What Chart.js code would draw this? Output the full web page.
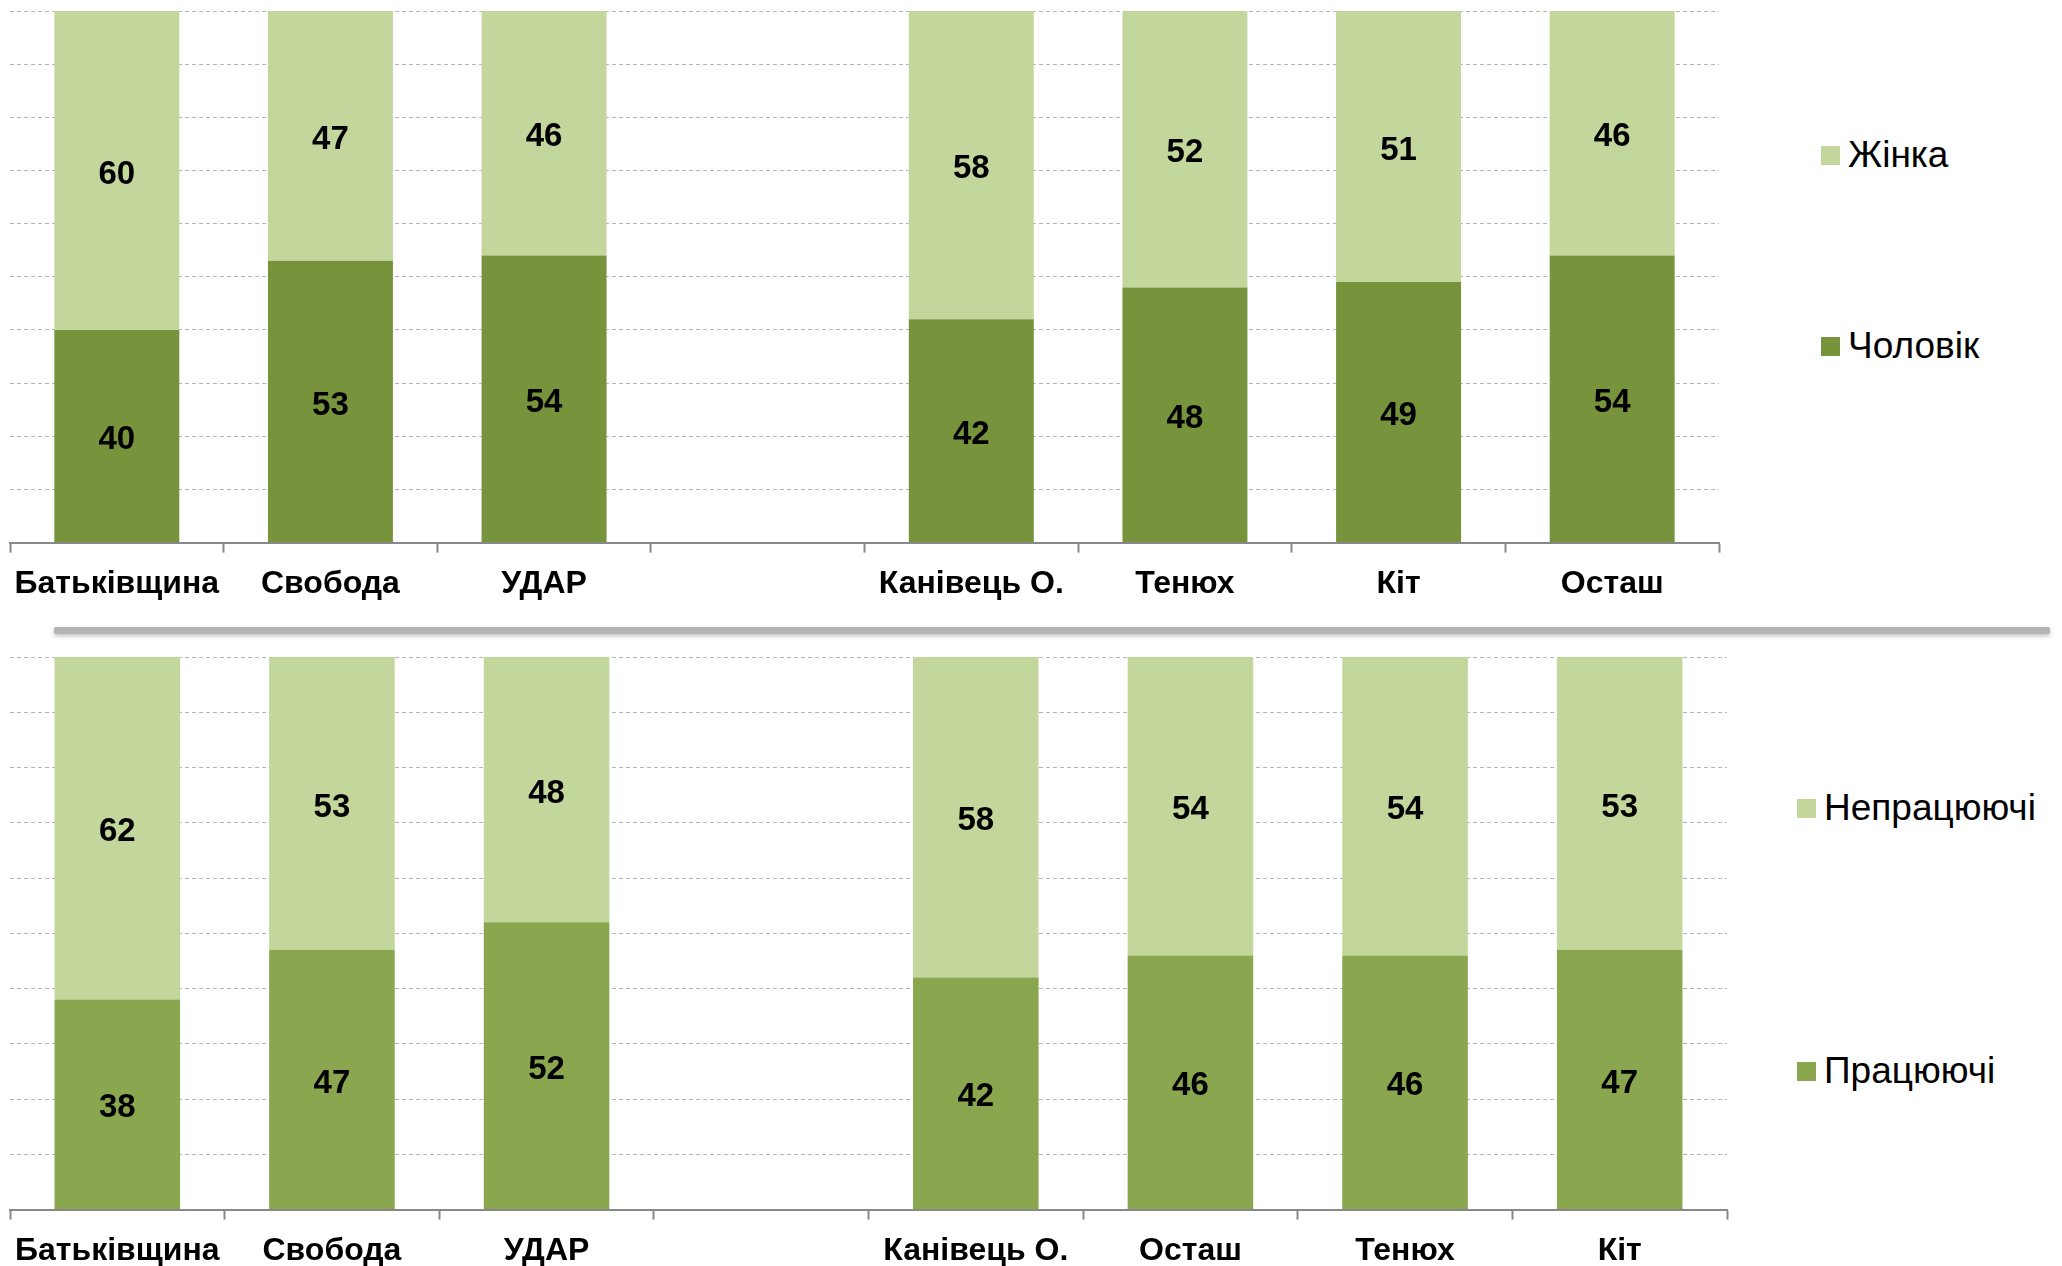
<!DOCTYPE html>
<html>
<head>
<meta charset="utf-8">
<script src="https://cdn.jsdelivr.net/npm/chart.js@4.4.0/dist/chart.umd.min.js"></script>
<style>
  html, body { margin: 0; padding: 0; background: #fff; overflow: hidden; }
  body { width: 2062px; height: 1266px; position: relative; font-family: "Liberation Sans", Arial, sans-serif; }
  canvas { position: absolute; left: 0; }
  #chartTop { top: 0; }
  #chartBottom { top: 646px; }
  .sep {
    position: absolute; left: 54px; top: 627px; width: 1996px; height: 7px;
    background: #b4b4b4; box-shadow: 0 2px 4px rgba(0,0,0,0.25); border-radius: 2px;
  }
  .legend-item { position: absolute; font-size: 37px; color: #000; line-height: 1; white-space: nowrap; }
  .legend-item span.box { display: inline-block; width: 19px; height: 19px; margin-right: 8px; vertical-align: middle; position: relative; top: -2px; }
</style>
</head>
<body>
<canvas id="chartTop" width="1730" height="615"></canvas>
<div class="sep"></div>
<canvas id="chartBottom" width="1740" height="636"></canvas>
<div id="legendTop"></div>
<div id="legendBottom"></div>

<script>
// Дані верхньої діаграми (стать)
const topLabels = ['Батьківщина', 'Свобода', 'УДАР', '', 'Канівець О.', 'Тенюх', 'Кіт', 'Осташ'];
const topMale   = [40, 53, 54, null, 42, 48, 49, 54];   // Чоловік
const topFemale = [60, 47, 46, null, 58, 52, 51, 46];   // Жінка

// Дані нижньої діаграми (зайнятість)
const bottomLabels = ['Батьківщина', 'Свобода', 'УДАР', '', 'Канівець О.', 'Осташ', 'Тенюх', 'Кіт'];
const bottomWorking    = [38, 47, 52, null, 42, 46, 46, 47];   // Працюючі
const bottomNonWorking = [62, 53, 48, null, 58, 54, 54, 53];   // Непрацюючі

const yTicks = { min: 0, max: 100, step: 10 };

const lightGreen = '#C3D69B';
const darkGreenTop = '#77933C';
const darkGreenBottom = '#8AA64F';
const FONT = '"Liberation Sans", Arial, sans-serif';

// Цифри в центрі кожного сегмента
const valueLabels = {
    id: 'valueLabels',
    afterDatasetsDraw(chart) {
        const { ctx } = chart;
        ctx.save();
        ctx.font = 'bold 33px ' + FONT;
        ctx.fillStyle = '#000';
        ctx.textAlign = 'center';
        ctx.textBaseline = 'middle';
        chart.data.datasets.forEach((ds, di) => {
            chart.getDatasetMeta(di).data.forEach((el, i) => {
                const v = ds.data[i];
                if (v === null || v === undefined) return;
                const p = el.getProps(['x', 'y', 'base'], true);
                ctx.fillText(v, p.x, (p.y + p.base) / 2 + 4);
            });
        });
        ctx.restore();
    }
};

function makeChart(id, labels, lower, upper, lowerName, upperName, darkColor, padRight) {
    return new Chart(document.getElementById(id), {
        type: 'bar',
        data: {
            labels: labels,
            datasets: [
                { label: lowerName, data: lower, backgroundColor: darkColor, borderWidth: 0 },
                { label: upperName, data: upper, backgroundColor: lightGreen, borderWidth: 0 }
            ]
        },
        options: {
            responsive: false,
            animation: false,
            layout: { padding: { left: 10, right: padRight, top: 11, bottom: 0 } },
            plugins: { legend: { display: false }, tooltip: { enabled: false } },
            datasets: { bar: { categoryPercentage: 1, barPercentage: 0.585 } },
            scales: {
                x: {
                    stacked: true,
                    grid: { display: true, drawOnChartArea: false, drawTicks: true, tickLength: 10, tickColor: '#888', tickWidth: 2, offset: true },
                    border: { display: true, color: '#888', width: 2 },
                    ticks: { color: '#000', font: { family: FONT, size: 32, weight: 'bold' }, padding: 12, maxRotation: 0, autoSkip: false }
                },
                y: {
                    stacked: true,
                    min: yTicks.min, max: yTicks.max,
                    ticks: { display: false, stepSize: yTicks.step },
                    grid: { color: '#b4b4b4', lineWidth: 1, drawTicks: false, tickLength: 0 },
                    border: { display: false, dash: [4, 3] }
                }
            }
        },
        plugins: [valueLabels]
    });
}

makeChart('chartTop', topLabels, topMale, topFemale, 'Чоловік', 'Жінка', darkGreenTop, 11);
makeChart('chartBottom', bottomLabels, bottomWorking, bottomNonWorking, 'Працюючі', 'Непрацюючі', darkGreenBottom, 13);

// Легенди праворуч
function legend(id, items, left) {
    const box = document.getElementById(id);
    items.forEach(it => {
        const d = document.createElement('div');
        d.className = 'legend-item';
        d.style.left = left + 'px';
        d.style.top = (it.y - 19) + 'px';
        d.innerHTML = '<span class="box" style="background:' + it.color + '"></span>' + it.name;
        box.appendChild(d);
    });
}
legend('legendTop', [
    { name: 'Жінка', color: lightGreen, y: 155 },
    { name: 'Чоловік', color: darkGreenTop, y: 346 }
], 1821);
legend('legendBottom', [
    { name: 'Непрацюючі', color: lightGreen, y: 808 },
    { name: 'Працюючі', color: darkGreenBottom, y: 1071 }
], 1797);
</script>
</body>
</html>
